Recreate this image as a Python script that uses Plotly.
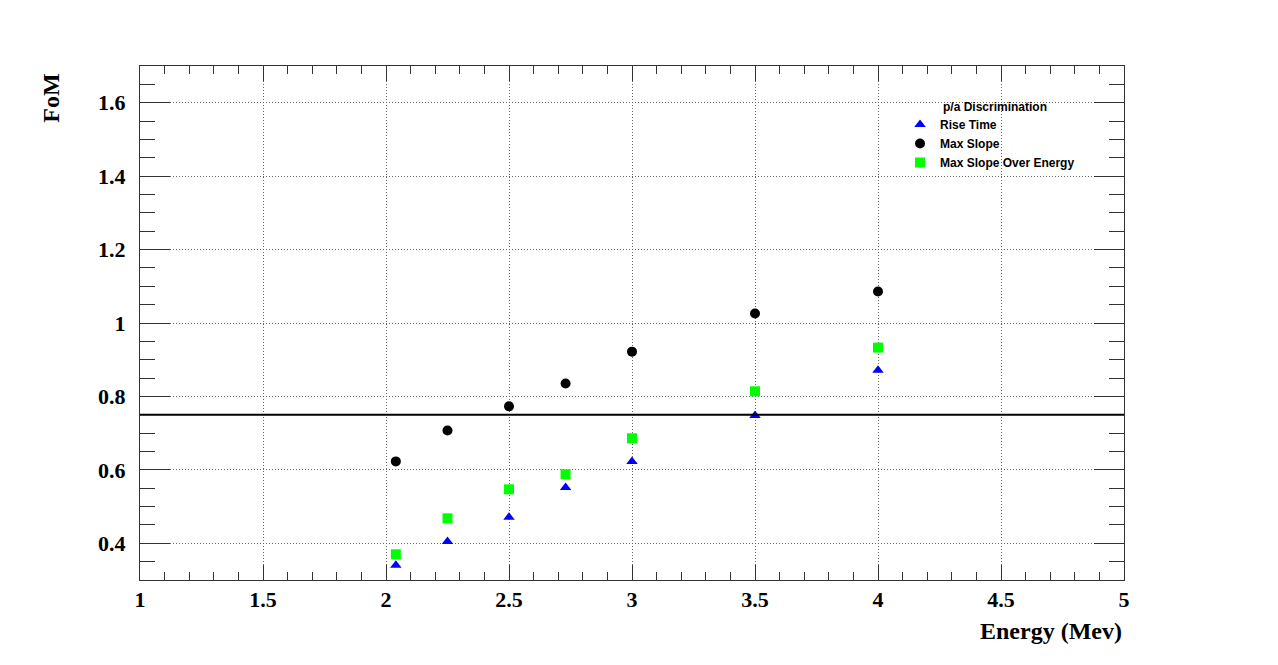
import plotly.graph_objects as go

energy = [2.04, 2.25, 2.5, 2.73, 3.0, 3.5, 4.0]
rise_time = [0.34, 0.405, 0.471, 0.552, 0.623, 0.748, 0.871]
max_slope = [0.623, 0.707, 0.773, 0.835, 0.922, 1.026, 1.086]
max_slope_over_energy = [0.37, 0.468, 0.547, 0.588, 0.686, 0.814, 0.933]
threshold = 0.75

fig = go.Figure()
fig.add_trace(go.Scatter(x=energy, y=rise_time, mode="markers", name="Rise Time",
                         marker=dict(symbol="triangle-up", size=10, color="#0000ff")))
fig.add_trace(go.Scatter(x=energy, y=max_slope, mode="markers", name="Max Slope",
                         marker=dict(symbol="circle", size=10, color="#000000")))
fig.add_trace(go.Scatter(x=energy, y=max_slope_over_energy, mode="markers", name="Max Slope Over Energy",
                         marker=dict(symbol="square", size=10, color="#00ff00")))

fig.add_shape(type="line", xref="paper", yref="y", x0=0, x1=1, y0=threshold, y1=threshold,
              line=dict(color="black", width=2))

tick_font = dict(family="Liberation Serif", size=22, color="black", weight="bold")
title_font = dict(family="Liberation Serif", size=24, color="black", weight="bold")
grid_dash = "1px,2px"
axis_color = "#333333"

fig.update_xaxes(range=[1, 5], dtick=0.5, tick0=1, showline=True, linecolor=axis_color, linewidth=1,
                 mirror="ticks", ticks="inside", ticklen=15, tickcolor=axis_color, tickwidth=1,
                 showgrid=True, gridcolor="#666666", griddash=grid_dash, gridwidth=1,
                 zeroline=False, tickfont=tick_font, tickformat="~g",
                 minor=dict(dtick=0.1, ticks="inside", ticklen=8, tickcolor=axis_color, showgrid=False))
fig.update_yaxes(range=[0.3, 1.7], dtick=0.2, tick0=0.4, showline=True, linecolor=axis_color, linewidth=1,
                 mirror="ticks", ticks="inside", ticklen=30, tickcolor=axis_color, tickwidth=1,
                 showgrid=True, gridcolor="#666666", griddash=grid_dash, gridwidth=1,
                 zeroline=False, tickfont=tick_font, tickformat="~g", ticklabelstandoff=9,
                 minor=dict(dtick=0.05, ticks="inside", ticklen=15, tickcolor=axis_color, showgrid=False))

fig.add_annotation(text="Energy (Mev)", xref="paper", yref="paper", x=1, y=-0.0992,
                   xanchor="right", yanchor="middle", showarrow=False, font=title_font)
fig.add_annotation(text="FoM", xref="paper", yref="paper", x=-0.0904, y=0.988,
                   xanchor="center", yanchor="top", textangle=-90, showarrow=False, font=title_font)
fig.add_annotation(text="p/a Discrimination", xref="paper", yref="paper", x=0.8137, y=0.9208,
                   xanchor="left", yanchor="middle", showarrow=False,
                   font=dict(family="Liberation Sans", size=12, color="black", weight="bold"))

fig.update_layout(
    width=1270, height=657,
    margin=dict(l=132, r=154, t=58, b=85),
    paper_bgcolor="white", plot_bgcolor="white",
    showlegend=True,
    legend=dict(x=0.7724, y=0.9144, xanchor="left", yanchor="top",
                bgcolor="rgba(255,255,255,0)", borderwidth=0,
                font=dict(family="Liberation Sans", size=12, color="black", weight="bold"),
                tracegroupgap=0),
)

fig.write_html("out.html")
